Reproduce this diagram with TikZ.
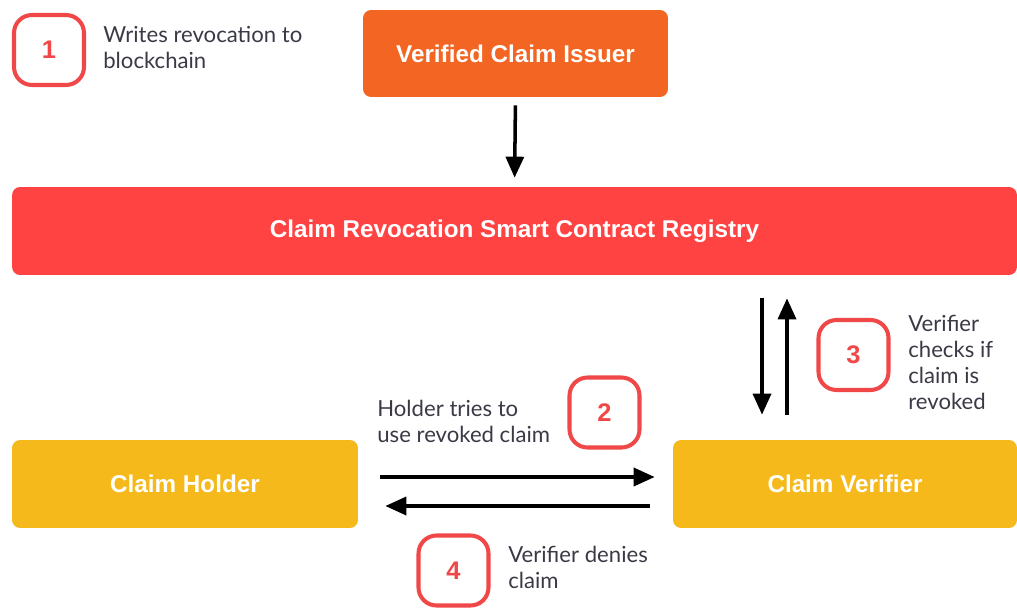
\documentclass[tikz,border=0pt]{standalone}
\usepackage{fontspec}
\setmainfont{Liberation Sans}
\newfontfamily\notefont{Lato}
\usetikzlibrary{arrows.meta,positioning}
\definecolor{issuerorange}{HTML}{F26522}
\definecolor{registryred}{HTML}{FF4343}
\definecolor{partyyellow}{HTML}{F6B91C}
\definecolor{badgered}{HTML}{F04848}
\definecolor{notegray}{HTML}{3A3A46}
\tikzset{
  box/.style={rounded corners=0.16cm, text=white, font=\fontsize{13.8}{16}\selectfont\bfseries, inner sep=0pt},
  badge/.style={draw=badgered, line width=2.3pt, rounded corners=0.36cm, minimum size=1.4cm, text=badgered, font=\fontsize{14.5}{16}\selectfont\bfseries, fill=white},
  note/.style={anchor=west, align=left, inner sep=0pt, text=notegray, font=\notefont\fontsize{12.6}{14.8}\selectfont},
  flow/.style={line width=2pt, -{Triangle[length=0.42cm,width=0.36cm]}}
}
\begin{document}
\begin{tikzpicture}[x=0.02cm, y=-0.02cm]
			%%%%% START %%%%%
			\useasboundingbox (0,0) rectangle (1017,608);
			
			\node[box, fill=issuerorange, minimum width=6.1cm, minimum height=1.74cm] (issuer) at (515.5,53.5) {Verified Claim Issuer};
			\node[box, fill=registryred, minimum width=20.1cm, minimum height=1.76cm] (registry) at (514.5,231) {Claim Revocation Smart Contract Registry};
			\node[box, fill=partyyellow, minimum width=6.92cm, minimum height=1.76cm] (holder) at (185,484) {Claim Holder};
			\node[box, fill=partyyellow, minimum width=6.88cm, minimum height=1.76cm] (verifier) at (845,484) {Claim Verifier};
			
			% step badges
			\node[badge] (one) at (49,50) {1};
			\node[badge] (two) at (604.5,412.5) {2};
			\node[badge] (three) at (853.5,355) {3};
			\node[badge] (four) at (453.5,570.5) {4};
			
			\node[note] (onetext) at (103,47) {Writes revocation to\\blockchain};
			\node[note] (twotext) at (377,421) {Holder tries to\\use revoked claim};
			\node[note] (threetext) at (908,362) {Verifier\\checks if\\claim is\\revoked};
			\node[note] (fourtext) at (508,567) {Verifier denies\\claim};
			
			% connectors
			\draw[flow, shorten <=0.16cm, shorten >=0.18cm] (issuer.south) -- (registry.north);
			\draw[flow, shorten <=0.46cm, shorten >=0.5cm] (registry.south -| 762,0) -- (verifier.north -| 762,0);
			\draw[flow, shorten <=0.5cm, shorten >=0.46cm] (verifier.north -| 787,0) -- (registry.south -| 787,0);
			\draw[flow, shorten <=0.44cm, shorten >=0.36cm] (holder.east |- 0,477) -- (verifier.west |- 0,477);
			\draw[flow, shorten <=0.46cm, shorten >=0.54cm] (verifier.west |- 0,506) -- (holder.east |- 0,506);
			
			%%%%% END %%%%%
\end{tikzpicture}
\end{document}
